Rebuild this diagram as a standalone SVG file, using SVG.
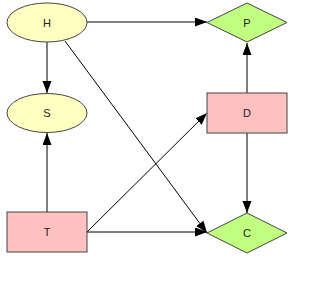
<svg xmlns="http://www.w3.org/2000/svg" width="327" height="282" viewBox="0 0 327 282">
<style>
.e{fill:#ffffc0;stroke:#444;stroke-width:1}
.r{fill:#ffc0c0;stroke:#444;stroke-width:1}
.d{fill:#c0ff80;stroke:#444;stroke-width:1}
.t{font-family:"Liberation Sans",Arial,sans-serif;font-size:11px;fill:#222;text-anchor:middle;dominant-baseline:central}
.c{stroke:#000;stroke-width:1;fill:none;marker-end:url(#a)}
</style>
<defs>
<marker id="a" markerUnits="userSpaceOnUse" markerWidth="13" markerHeight="10" refX="12" refY="4.5" orient="auto">
<path d="M0,0 L12,4.5 L0,9 z" fill="#000"/>
</marker>
</defs>
<rect width="327" height="282" fill="#fff"/>
<g id="connectors">
<line class="c" x1="87" y1="22" x2="207" y2="22"/>
<line class="c" x1="47" y1="42" x2="47" y2="93"/>
<line class="c" x1="65" y1="41" x2="207" y2="233"/>
<line class="c" x1="47" y1="212" x2="47" y2="133"/>
<line class="c" x1="87" y1="232" x2="207" y2="113"/>
<line class="c" x1="87" y1="232" x2="207" y2="232"/>
<line class="c" x1="247" y1="93" x2="247" y2="43"/>
<line class="c" x1="247" y1="133" x2="247" y2="213"/>
</g>
<g id="H"><ellipse class="e" cx="47" cy="22.5" rx="40" ry="19.5"/><text class="t" x="47" y="23">H</text></g>
<g id="S"><ellipse class="e" cx="47" cy="113" rx="40" ry="19.5"/><text class="t" x="47" y="113">S</text></g>
<g id="T"><rect class="r" x="7" y="212" width="80" height="40"/><text class="t" x="47" y="232">T</text></g>
<g id="P"><polygon class="d" points="207,22.5 247,3 287,22.5 247,42"/><text class="t" x="247" y="23">P</text></g>
<g id="D"><rect class="r" x="207" y="93" width="80" height="40"/><text class="t" x="247" y="113">D</text></g>
<g id="C"><polygon class="d" points="207,233 247,213 287,233 247,253"/><text class="t" x="247" y="233">C</text></g>
</svg>
